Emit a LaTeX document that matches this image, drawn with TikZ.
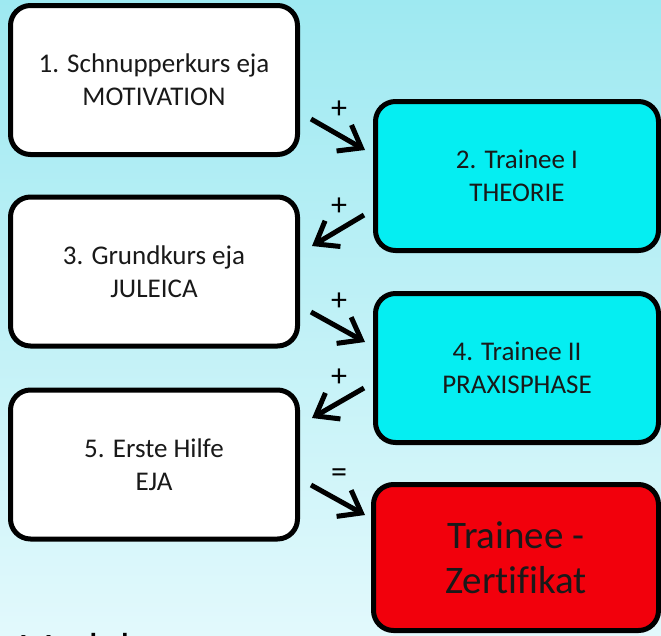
\documentclass[tikz,border=0pt]{standalone}
\usepackage{fontspec}
\setmainfont{Carlito}[Ligatures=NoCommon]
\usetikzlibrary{arrows.meta}
\definecolor{bgtop}{RGB}{158,233,241}
\definecolor{bgbot}{RGB}{226,249,252}
\definecolor{boxcyan}{RGB}{5,238,242}
\definecolor{boxred}{RGB}{242,0,12}
\tikzset{
  stage/.style={draw=black, line width=5pt, rounded corners=20pt, rectangle,
    minimum width=287pt, minimum height=149pt, align=center, inner sep=0pt,
    font=\fontsize{27}{33}\selectfont, text=black!90},
  whitebox/.style={stage, fill=white},
  cyanbox/.style={stage, fill=boxcyan, minimum width=283pt},
  redbox/.style={stage, fill=boxred, minimum width=285pt, minimum height=146pt,
    font=\fontsize{39}{45}\selectfont},
  flow/.style={line width=5pt, line cap=butt, -{Straight Barb[length=20pt, width=30pt, line cap=butt]}},
  sign/.style={font=\fontsize{32}{32}\selectfont, inner sep=0pt}
}
\begin{document}
\begin{tikzpicture}[x=1pt, y=-1pt]
\useasboundingbox (0,0) rectangle (661,635);
\shade[top color=bgtop, bottom color=bgbot] (0,0) rectangle (661,635);

\node[whitebox] (b1) at (154,80) {1. Schnupperkurs eja\\MOTIVATION};
\node[cyanbox] (b2) at (517,176) {2. Trainee I\\THEORIE};
\node[whitebox] (b3) at (154,271.5) {3. Grundkurs eja\\JULEICA};
\node[cyanbox] (b4) at (517,368) {4. Trainee II\\PRAXISPHASE};
\node[whitebox] (b5) at (154,464.5) {5. Erste Hilfe\\EJA};
\node[redbox] (b6) at (516,557.5) {Trainee -\\Zertifikat};

\node[anchor=base west, font=\fontsize{42}{42}\selectfont, inner sep=0pt] (mod) at (18,662) {Modul};

\coordinate (a1s) at (311,119); \coordinate (a1e) at (365,150);
\coordinate (a2s) at (364,215); \coordinate (a2e) at (312,246);
\coordinate (a3s) at (311,312); \coordinate (a3e) at (365,342);
\coordinate (a4s) at (364,388); \coordinate (a4e) at (312,418);
\coordinate (a5s) at (311,485); \coordinate (a5e) at (365,515);

\draw[flow] (a1s) -- (a1e);
\draw[flow] (a2s) -- (a2e);
\draw[flow] (a3s) -- (a3e);
\draw[flow] (a4s) -- (a4e);
\draw[flow] (a5s) -- (a5e);

\node[sign] (p1) at (339,110) {+};
\node[sign] (p2) at (339,207) {+};
\node[sign] (p3) at (339,302) {+};
\node[sign] (p4) at (339,378) {+};
\node[sign] (p5) at (339,476) {=};
\end{tikzpicture}
\end{document}
